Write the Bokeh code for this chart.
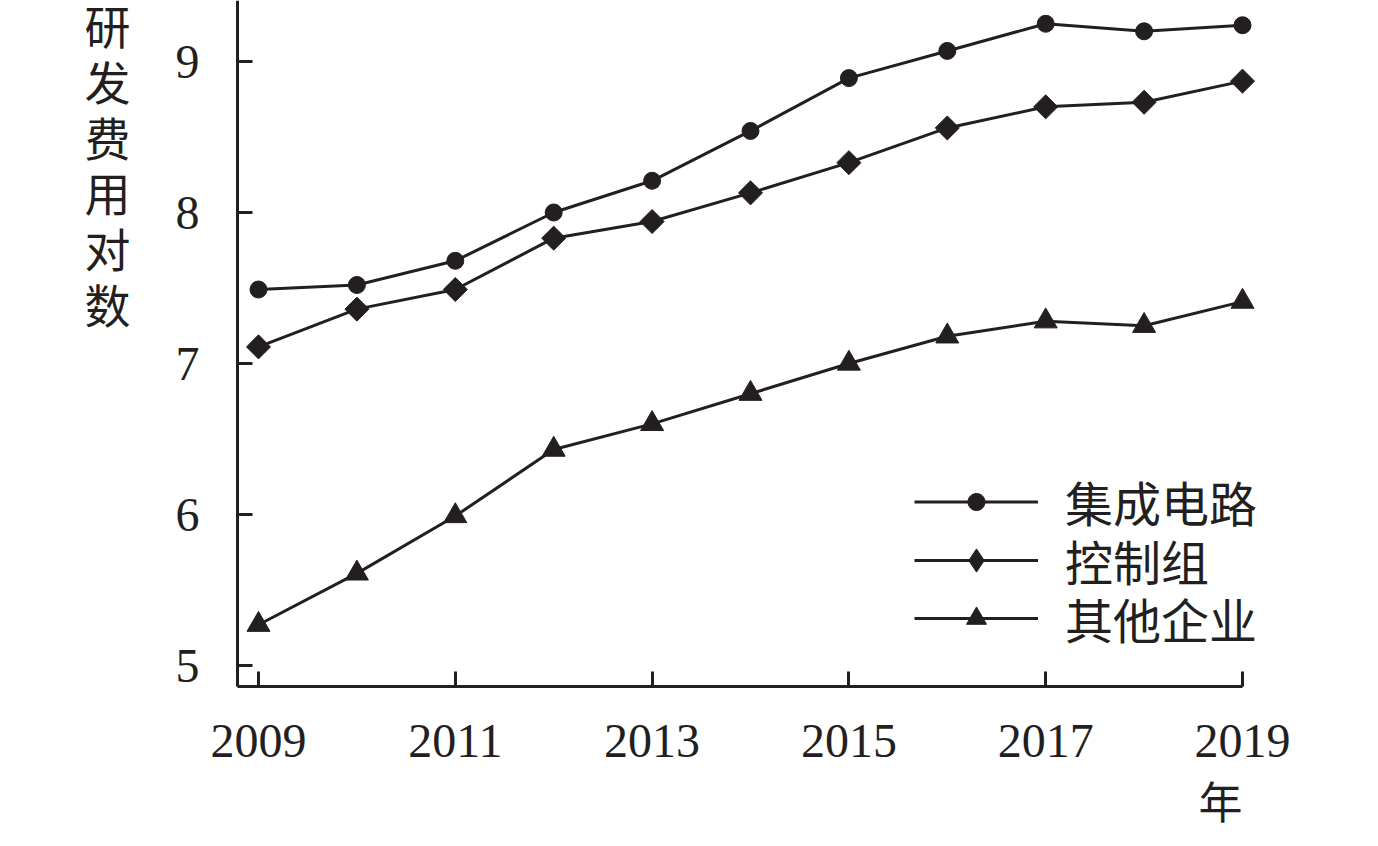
from bokeh.plotting import figure
from bokeh.models import FixedTicker, Legend, LegendItem, Label, Range1d
from bokeh.embed import file_html
from bokeh.resources import INLINE
import numpy as np

years = [2009, 2010, 2011, 2012, 2013, 2014, 2015, 2016, 2017, 2018, 2019]
ic = [7.49, 7.52, 7.68, 8.00, 8.21, 8.54, 8.89, 9.07, 9.25, 9.20, 9.24]
control = [7.11, 7.36, 7.49, 7.83, 7.94, 8.13, 8.33, 8.56, 8.70, 8.73, 8.87]
other = [5.27, 5.61, 5.99, 6.43, 6.60, 6.80, 7.00, 7.18, 7.28, 7.25, 7.41]
series_names = ["集成电路", "控制组", "其他企业"]
x_ticks = [2009, 2011, 2013, 2015, 2017, 2019]
y_ticks = [5, 6, 7, 8, 9]
y_label_chars = ["研", "发", "费", "用", "对", "数"]
x_unit = "年"

INK = "#231f20"
NUM_FONT = "Liberation Serif"
CJK_FONT = "Liberation Serif, Noto Sans CJK SC"

W, H = 1362, 830
PX_YEAR = 98.4
PX_UNIT = 151.0
x0 = 2009 - 258 / PX_YEAR
y1 = 9 + 61 / PX_UNIT
axis_x = 2009 - 21 / PX_YEAR
axis_y = 5 - 21 / PX_UNIT

p = figure(width=W, height=H, output_backend="svg", toolbar_location=None,
           x_range=Range1d(x0, x0 + W / PX_YEAR), y_range=Range1d(y1 - H / PX_UNIT, y1),
           min_border_left=0, min_border_right=0, min_border_top=0,
           min_border_bottom=0)
p.outline_line_color = None
p.grid.visible = False
p.background_fill_color = "white"
p.border_fill_color = "white"

for ax in (p.xaxis[0], p.yaxis[0]):
    ax.axis_line_color = INK
    ax.axis_line_width = 3
    ax.major_tick_line_color = INK
    ax.major_tick_line_width = 3
    ax.major_tick_in = 15
    ax.major_tick_out = 0
    ax.minor_tick_line_color = None
    ax.major_label_text_font = NUM_FONT
    ax.major_label_text_font_size = "48px"
    ax.major_label_text_color = INK

p.xaxis[0].ticker = FixedTicker(ticks=x_ticks)
p.yaxis[0].ticker = FixedTicker(ticks=y_ticks)
p.xaxis[0].fixed_location = axis_y
p.yaxis[0].fixed_location = axis_x
p.xaxis[0].bounds = (axis_x, 2019.0)
p.yaxis[0].bounds = (axis_y, y1)
p.xaxis[0].major_label_standoff = 38
p.yaxis[0].major_label_standoff = 38

r1l = p.line(years, ic, line_color=INK, line_width=3)
r1m = p.scatter(years, ic, marker="circle", size=17, fill_color=INK, line_color=INK)
r2l = p.line(years, control, line_color=INK, line_width=3)
r2m = p.scatter(years, control, marker="square", angle=np.pi / 4, size=17,
                fill_color=INK, line_color=INK)
r3l = p.line(years, other, line_color=INK, line_width=3)
r3m = p.scatter(years, other, marker="triangle", size=23, fill_color=INK, line_color=INK)
# legend-only swatch for the diamond (legend ignores marker angle); hidden on the plot
r2k = p.scatter(years, control, marker="diamond", size=17, fill_color=INK,
                line_color=INK, visible=False)

rows = [
    (series_names[0], [r1l, r1m], 43, 294),
    (series_names[1], [r2l, r2k], 58, 235),
    (series_names[2], [r3l, r3m], 50, 177),
]
for name, rends, gh, ly in rows:
    lg = Legend(items=[LegendItem(label=name, renderers=rends)],
                location=(914, ly), padding=0, margin=0, spacing=0,
                glyph_width=124, glyph_height=gh, label_height=20, label_standoff=27,
                border_line_color=None, background_fill_alpha=0,
                inactive_fill_alpha=0,
                label_text_font=CJK_FONT, label_text_font_size="48px",
                label_text_color=INK)
    p.add_layout(lg, "center")

for i, ch in enumerate(y_label_chars):
    p.add_layout(Label(x=107, y=H - (28 + i * 55.8), x_units="screen", y_units="screen",
                       text=ch, text_font=CJK_FONT, text_font_size="46px",
                       text_color=INK, text_align="center", text_baseline="middle"))

p.add_layout(Label(x=1220, y=H - 804, x_units="screen", y_units="screen", text=x_unit,
                   text_font=CJK_FONT, text_font_size="44px", text_color=INK,
                   text_align="center", text_baseline="middle"))

open("out.html", "w").write(file_html(p, INLINE))
